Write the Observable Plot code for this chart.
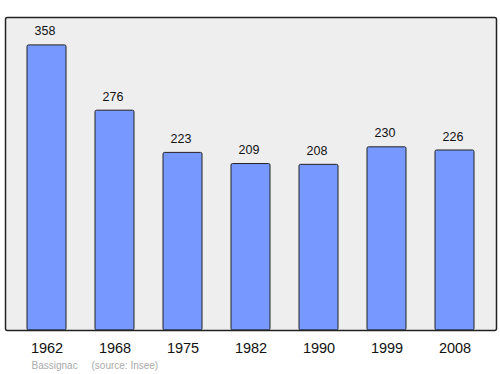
<!DOCTYPE html>
<html>
<head>
<meta charset="utf-8">
<script src="https://cdn.jsdelivr.net/npm/d3@7"></script>
<script src="https://cdn.jsdelivr.net/npm/@observablehq/plot@0.6"></script>
<style>
  html, body { margin: 0; padding: 0; background: #fff; }
  svg { display: block; }
</style>
</head>
<body>
<div id="chart"></div>
<script>
const years = ["1962", "1968", "1975", "1982", "1990", "1999", "2008"];
const population = [358, 276, 223, 209, 208, 230, 226];
const town = "Bassignac";
const source = "(source: Insee)";

const data = years.map((y, i) => ({year: y, value: population[i]}));

const chart = Plot.plot({
  width: 500,
  height: 374,
  marginLeft: 5,
  marginRight: 4,
  marginTop: 17,
  marginBottom: 44,
  style: {fontFamily: "'Liberation Sans', Arial, sans-serif", background: "#fff"},
  x: {domain: years, paddingInner: 0.43, paddingOuter: 0.31, label: null},
  y: {domain: [0, 393], label: null, axis: null},
  marks: [
    Plot.frame({fill: "#eeeeee", stroke: "none"}),
    Plot.barY(data, {x: "year", y: "value", fill: "#7799ff", stroke: "#222", strokeWidth: 1, rx: 1.5}),
    Plot.frame({stroke: "#222", strokeWidth: 1.5, rx: 2}),
    Plot.text(data, {x: "year", y: "value", text: d => String(d.value), dy: -14, dx: -2, fontSize: 12.5, fill: "#111"}),
    Plot.axisX({tickSize: 0, tickPadding: 12, fontSize: 14.5, color: "#111", label: null}),
    Plot.text([town], {frameAnchor: "bottom-left", dx: 26, dy: 38, fontSize: 10, fill: "#aaa", textAnchor: "start"}),
    Plot.text([source], {frameAnchor: "bottom-left", dx: 86, dy: 38, fontSize: 10, fill: "#aaa", textAnchor: "start"})
  ]
});
document.getElementById("chart").appendChild(chart);
</script>
</body>
</html>
